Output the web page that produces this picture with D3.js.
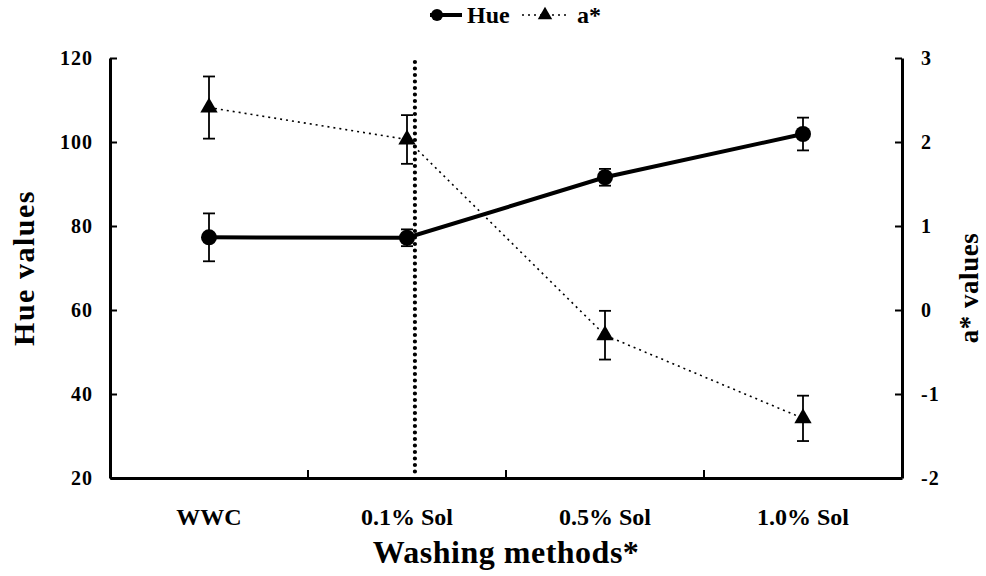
<!DOCTYPE html>
<html>
<head>
<meta charset="utf-8">
<script src="https://cdn.jsdelivr.net/npm/d3@7"></script>
<style>
  body { margin: 0; background: #fff; }
  text { font-family: "Liberation Serif", "Times New Roman", serif; font-weight: bold; fill: #000; }
</style>
</head>
<body>
<div id="chart"></div>
<script>
// data
var categories = ["WWC", "0.1% Sol", "0.5% Sol", "1.0% Sol"];
var hueValues = [77.3, 77.2, 91.6, 101.9];
var hueErrors = [5.7, 2.0, 2.0, 3.9];
var aValues = [2.41, 2.03, -0.30, -1.29];
var aErrors = [0.37, 0.29, 0.29, 0.27];
var hueTicks = [20, 40, 60, 80, 100, 120];
var aTicks = [-2, -1, 0, 1, 2, 3];
var dividerAt = 1.54; // in category units, just right of 0.1% Sol

var width = 986, height = 576;
var margin = {top: 58, right: 84, bottom: 98, left: 110};
var w = width - margin.left - margin.right;
var h = height - margin.top - margin.bottom;

var svg = d3.select("#chart")
  .append("svg")
    .attr("width", width)
    .attr("height", height);

var g = svg.append("g")
    .attr("transform", "translate(" + margin.left + "," + margin.top + ")");

var xScale = d3.scaleBand()
    .domain(categories)
    .range([0, w]);
var xPos = function(i) { return xScale(categories[i]) + xScale.bandwidth() / 2; };

var yHue = d3.scaleLinear().domain([20, 120]).range([h, 0]);
var yA = d3.scaleLinear().domain([-2, 3]).range([h, 0]);

// left axis, ticks pointing inward
var leftAxis = g.append("g")
    .call(d3.axisLeft(yHue).tickValues(hueTicks).tickSize(-7).tickPadding(17).tickSizeOuter(0));
// right axis
var rightAxis = g.append("g")
    .attr("transform", "translate(" + w + ",0)")
    .call(d3.axisRight(yA).tickValues(aTicks).tickSize(-7).tickPadding(19).tickSizeOuter(0)
      .tickFormat(function(d) { return String(d); }));
// bottom axis: ticks at band boundaries
var bottomAxis = g.append("g")
    .attr("transform", "translate(0," + h + ")")
    .call(d3.axisBottom(xScale).tickSize(0).tickPadding(0));

bottomAxis.selectAll(".tick")
  .append("line")
    .attr("x1", xScale.bandwidth() / 2)
    .attr("x2", xScale.bandwidth() / 2)
    .attr("y1", 0)
    .attr("y2", -8)
    .attr("stroke", "#000")
    .attr("stroke-width", 2)
    .filter(function(d, i) { return i == categories.length - 1; })
    .remove();

[leftAxis, rightAxis, bottomAxis].forEach(function(ax) {
  ax.select(".domain").attr("stroke", "#000").attr("stroke-width", 3);
  ax.selectAll(".tick line").attr("stroke", "#000").attr("stroke-width", 2);
  ax.selectAll("text").style("font-size", "20px").style("font-family", "Liberation Serif")
    .style("font-weight", "bold").style("letter-spacing", "1px");
});
rightAxis.selectAll("text").attr("text-anchor", "start");
bottomAxis.selectAll("text")
    .attr("y", 47).attr("dy", null)
    .style("font-size", "24px").style("letter-spacing", "0px");

// vertical dotted divider
var xLin = d3.scaleLinear().domain([0, categories.length]).range([0, w]);
g.append("line")
    .attr("x1", xLin(dividerAt))
    .attr("x2", xLin(dividerAt))
    .attr("y1", 4)
    .attr("y2", h)
    .attr("stroke", "#000")
    .attr("stroke-width", 4.2)
    .attr("stroke-linecap", "round")
    .attr("stroke-dasharray", "0,6.5");

// error bars
function errorBars(vals, errs, scale) {
  var eb = g.append("g");
  vals.forEach(function(v, i) {
    var x = xPos(i);
    eb.append("line").attr("x1", x).attr("x2", x)
      .attr("y1", scale(v + errs[i])).attr("y2", scale(v - errs[i]))
      .attr("stroke", "#000").attr("stroke-width", 1.8);
    [v + errs[i], v - errs[i]].forEach(function(e) {
      eb.append("line").attr("x1", x - 6).attr("x2", x + 6)
        .attr("y1", scale(e)).attr("y2", scale(e))
        .attr("stroke", "#000").attr("stroke-width", 1.8);
    });
  });
}
errorBars(hueValues, hueErrors, yHue);
errorBars(aValues, aErrors, yA);

// a* dotted line + triangles
var aLine = d3.line()
    .x(function(d, i) { return xPos(i); })
    .y(function(d) { return yA(d); });
g.append("path")
    .attr("d", aLine(aValues))
    .attr("fill", "none")
    .attr("stroke", "#000")
    .attr("stroke-width", 1.6)
    .attr("stroke-dasharray", "2,4");

var tri = d3.symbol().type(d3.symbolTriangle).size(130);
g.selectAll(".tri")
  .data(aValues)
  .enter().append("path")
    .attr("d", tri)
    .attr("transform", function(d, i) { return "translate(" + xPos(i) + "," + yA(d) + ")"; })
    .attr("fill", "#000");

// Hue solid line + circles
var hueLine = d3.line()
    .x(function(d, i) { return xPos(i); })
    .y(function(d) { return yHue(d); });
g.append("path")
    .attr("d", hueLine(hueValues))
    .attr("fill", "none")
    .attr("stroke", "#000")
    .attr("stroke-width", 4);

g.selectAll(".dot")
  .data(hueValues)
  .enter().append("circle")
    .attr("cx", function(d, i) { return xPos(i); })
    .attr("cy", function(d) { return yHue(d); })
    .attr("r", 8)
    .attr("fill", "#000");

// axis titles
svg.append("text")
    .attr("transform", "translate(34," + (margin.top + h / 2) + ") rotate(-90)")
    .attr("text-anchor", "middle")
    .style("font-size", "30px")
    .style("letter-spacing", "1.5px")
    .text("Hue values");

svg.append("text")
    .attr("transform", "translate(978,288) rotate(-90)")
    .attr("text-anchor", "middle")
    .style("font-size", "27px")
    .style("letter-spacing", "0.5px")
    .text("a* values");

svg.append("text")
    .attr("x", margin.left + w / 2)
    .attr("y", 563)
    .attr("text-anchor", "middle")
    .style("font-size", "32px")
    .style("letter-spacing", "0.5px")
    .text("Washing methods*");

// legend
var lg = svg.append("g").attr("transform", "translate(0,15)");
lg.append("line").attr("x1", 430).attr("x2", 462).attr("y1", 0).attr("y2", 0)
  .attr("stroke", "#000").attr("stroke-width", 4);
lg.append("circle").attr("cx", 437).attr("cy", 0).attr("r", 6).attr("fill", "#000");
lg.append("text").attr("x", 467).attr("y", 8).style("font-size", "24px").text("Hue");
lg.append("line").attr("x1", 522).attr("x2", 570).attr("y1", 0).attr("y2", 0)
  .attr("stroke", "#000").attr("stroke-width", 1.6).attr("stroke-dasharray", "2,4");
lg.append("path").attr("d", d3.symbol().type(d3.symbolTriangle).size(90))
  .attr("transform", "translate(545,0)").attr("fill", "#000");
lg.append("text").attr("x", 577).attr("y", 8).style("font-size", "24px").text("a*");
</script>
</body>
</html>
